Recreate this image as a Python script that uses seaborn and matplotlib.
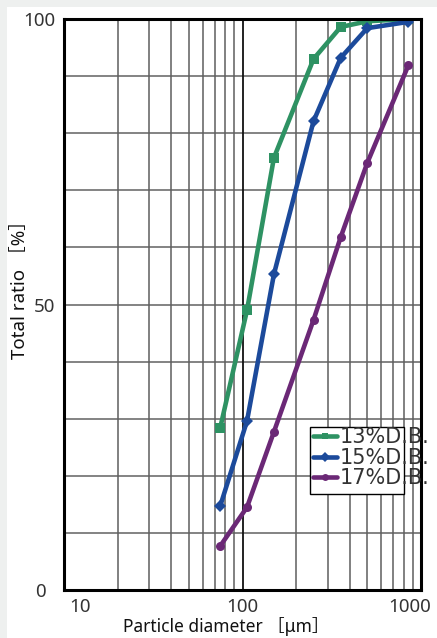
import matplotlib
matplotlib.use("Agg")
import matplotlib.pyplot as plt
import matplotlib.transforms as mtransforms
from matplotlib.patches import Rectangle
from matplotlib.lines import Line2D
import numpy as np
import pandas as pd
import seaborn as sns

# Sieve openings (um) and cumulative passing ratio (%) per moisture grade
sizes = [75, 106, 150, 250, 355, 500, 850]
grades = ["13%D.B.", "15%D.B.", "17%D.B."]
ratio_13 = [28.4, 49.0, 75.7, 93.0, 98.6, 99.6, 100.0]
ratio_15 = [14.7, 29.6, 55.3, 82.1, 93.2, 98.4, 99.5]
ratio_17 = [7.7, 14.5, 27.7, 47.3, 61.8, 74.8, 91.9]

colors = {"13%D.B.": "#2e9263", "15%D.B.": "#1c4a9b", "17%D.B.": "#6b2876"}
markers = {"13%D.B.": "s", "15%D.B.": "D", "17%D.B.": "o"}

df = pd.DataFrame({
    "size": sizes * 3,
    "ratio": ratio_13 + ratio_15 + ratio_17,
    "grade": [g for g in grades for _ in sizes],
})

sns.set_theme(style="white")
plt.rcParams["font.family"] = ["Noto Sans", "Noto Sans CJK JP", "DejaVu Sans"]

fig = plt.figure(figsize=(4.37, 6.38), dpi=100, facecolor="#eef0ef")
fig.patches.append(Rectangle((7 / 437, 0), 1, 1 - 7 / 638,
                             transform=fig.transFigure, facecolor="white",
                             edgecolor="none", zorder=-10))
ax = fig.add_axes([64 / 437, 48 / 638, 357 / 437, 571 / 638])
ax.set_facecolor("white")

ax.set_xscale("log")
ax.set_xlim(10, 1000)
ax.set_ylim(0, 100)

# Grid: every 10 % and every log step
for yv in range(10, 100, 10):
    ax.axhline(yv, color="#6e6e6e", lw=1.2, zorder=1)
for dec in (10, 100):
    for m in range(2, 10):
        ax.axvline(dec * m, color="#5e5e5e", lw=1.1, zorder=1)
ax.axvline(100, color="#111111", lw=1.3, zorder=1)

sns.lineplot(data=df, x="size", y="ratio", hue="grade", style="grade",
             palette=colors, markers=markers, dashes=False, lw=3.3,
             markersize=6.5, markeredgewidth=0, legend=False, ax=ax, zorder=3)

for s in ax.spines.values():
    s.set_linewidth(2.2)
    s.set_color("black")
    s.set_zorder(5)

ax.set_yticks([0, 50, 100])
ax.set_yticklabels(["0", "50", "100"])
ax.set_xticks([10, 100, 1000])
ax.set_xticklabels(["10", "100", "1000"])
ax.xaxis.set_minor_locator(matplotlib.ticker.NullLocator())
ax.tick_params(axis="both", direction="in", length=4, width=1.2, color="black",
               labelsize=13.5, labelcolor="#333333")
ax.tick_params(axis="x", pad=6)
ax.tick_params(axis="y", pad=6)
for lab in ax.get_xticklabels() + ax.get_yticklabels():
    lab.set_fontweight("light")

xl = ax.get_xticklabels()
xl[0].set_transform(xl[0].get_transform() +
                    mtransforms.ScaledTranslation(16 / 100, 0, fig.dpi_scale_trans))
xl[2].set_transform(xl[2].get_transform() +
                    mtransforms.ScaledTranslation(-11 / 100, 0, fig.dpi_scale_trans))
yl = ax.get_yticklabels()
yl[0].set_transform(yl[0].get_transform() +
                    mtransforms.ScaledTranslation(-10 / 100, 0, fig.dpi_scale_trans))

ax.set_xlabel("Particle diameter ［μm］", fontsize=12.5, color="#111111")
ax.set_ylabel("Total ratio ［%］", fontsize=13.5, color="#111111")
ax.xaxis.set_label_coords(0.455, -0.047)
ax.yaxis.set_label_coords(-0.098, 0.535)

handles = [Line2D([0], [0], color=colors[g], lw=3.3, marker=markers[g],
                  markersize=5, markeredgewidth=0) for g in grades]
leg = ax.legend(handles, grades, loc="upper left", bbox_to_anchor=(0.686, 0.292),
                frameon=False, handlelength=1.15, handletextpad=0.15,
                labelspacing=0.02, borderaxespad=0, borderpad=0.2,
                prop={"family": ["DejaVu Sans"], "size": 15})
for t in leg.get_texts():
    t.set_color("#333333")
    t.set_fontfamily(["DejaVu Sans"])
leg.set_zorder(6)
ax.add_patch(Rectangle((0.689, 0.168), 0.263, 0.117, transform=ax.transAxes,
                       facecolor="white", edgecolor="black", lw=1.0, zorder=4))

fig.savefig("out.png", dpi=100, facecolor=fig.get_facecolor())
